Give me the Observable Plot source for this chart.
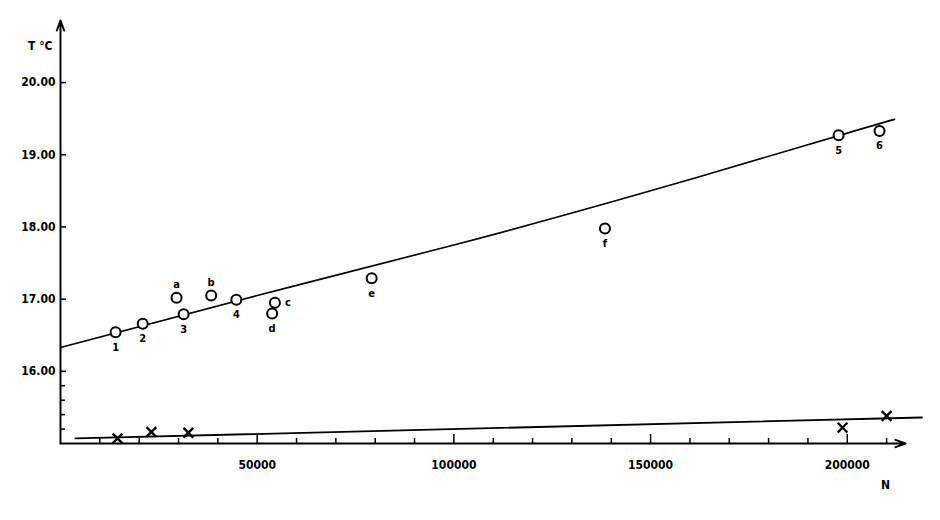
<!DOCTYPE html>
<html>
<head>
<meta charset="utf-8">
<script src="https://cdn.jsdelivr.net/npm/d3@7"></script>
<script src="https://cdn.jsdelivr.net/npm/@observablehq/plot@0.6"></script>
<style>
  html, body { margin: 0; padding: 0; background: #fff; }
  #chart svg { display: block; }
</style>
</head>
<body>
<div id="chart"></div>
<script>
// Circles: measured points
const pointLabels = ["1", "2", "3", "4", "a", "b", "c", "d", "e", "f", "5", "6"];
const pointN = [14000, 20900, 31300, 44700, 29500, 38300, 54500, 53800, 79100, 138400, 197800, 208200];
const pointT = [16.54, 16.66, 16.79, 16.99, 17.02, 17.05, 16.95, 16.80, 17.29, 17.98, 19.27, 19.33];
const labelPos = ["below", "below", "below", "below", "above", "above", "right", "below", "below", "below", "below", "below"];

// Fitted curve through circles
const fitN = [0, 50000, 100000, 150000, 200000, 212000];
const fitT = [16.33, 17.05, 17.75, 18.50, 19.30, 19.49];

// Lower series (crosses) and its line
const crossN = [14500, 23100, 32500, 198800, 210000];
const crossT = [15.07, 15.16, 15.15, 15.22, 15.38];
const lowLineN = [3800, 219000];
const lowLineT = [15.07, 15.36];

// Axes
const xDomain = [0, 214800];
const yDomain = [15, 20.86];
const yTickValues = [16, 17, 18, 19, 20];
const yMinorTicks = [15.2, 15.4, 15.6, 15.8];
const xMajorTicks = [50000, 100000, 150000, 200000];
const xMinorTicks = d3.range(10000, 211000, 10000).filter(v => v % 50000 !== 0);

const points = pointN.map((n, i) => ({n, t: pointT[i], label: pointLabels[i], pos: labelPos[i]}));
const fit = fitN.map((n, i) => ({n, t: fitT[i]}));
const crosses = crossN.map((n, i) => ({n, t: crossT[i]}));
const lowLine = lowLineN.map((n, i) => ({n, t: lowLineT[i]}));

const font = "'DejaVu Sans Condensed', 'DejaVu Sans', sans-serif";

const chart = Plot.plot({
  width: 940,
  height: 520,
  marginLeft: 60,
  marginRight: 35,
  marginTop: 20,
  marginBottom: 77,
  style: {fontFamily: font, fontWeight: "bold", fontSize: "12px", color: "#000", background: "#fff"},
  x: {domain: xDomain},
  y: {domain: yDomain},
  marks: [
    // axis lines with arrowheads
    Plot.arrow([0], {x1: xDomain[0], y1: yDomain[0], x2: xDomain[1], y2: yDomain[0], stroke: "#000", strokeWidth: 2, headLength: 8, headAngle: 40}),
    Plot.arrow([0], {x1: xDomain[0], y1: yDomain[0], x2: xDomain[0], y2: yDomain[1], stroke: "#000", strokeWidth: 2, headLength: 8, headAngle: 40}),
    // y ticks (pointing inward) and labels
    Plot.axisY({ticks: yTickValues, tickSize: -6, tickFormat: null, label: null, text: null, strokeWidth: 1.5}),
    Plot.axisY({ticks: yMinorTicks, tickSize: -5, label: null, text: null, strokeWidth: 1.5}),
    Plot.axisY({ticks: yTickValues, tickSize: 0, tickPadding: 5, tickFormat: d => d.toFixed(2), label: null}),
    // x ticks (pointing up) and labels
    Plot.axisX({ticks: xMajorTicks, tickSize: -9, label: null, text: null, strokeWidth: 1.5}),
    Plot.axisX({ticks: xMinorTicks, tickSize: -5, label: null, text: null, strokeWidth: 1.5}),
    Plot.axisX({ticks: xMajorTicks, tickSize: 0, tickPadding: 17, tickFormat: d => String(d), label: null}),
    // axis titles
    Plot.text(["T °C"], {frameAnchor: "top-left", dx: -8, dy: 21, textAnchor: "end", fontSize: 12, fontWeight: "bold"}),
    Plot.text(["N"], {frameAnchor: "bottom-right", dx: -20, dy: 45, textAnchor: "middle", fontSize: 12, fontWeight: "bold"}),
    // curves
    Plot.line(fit, {x: "n", y: "t", stroke: "#000", strokeWidth: 1.6, curve: "natural"}),
    Plot.line(lowLine, {x: "n", y: "t", stroke: "#000", strokeWidth: 1.8}),
    // crosses
    Plot.dot(crosses, {x: "n", y: "t", symbol: "times", r: 4.5, stroke: "#000", strokeWidth: 2.4}),
    // circles
    Plot.dot(points, {x: "n", y: "t", r: 5, fill: "#fff", stroke: "#000", strokeWidth: 2}),
    // point labels
    Plot.text(points.filter(d => d.pos === "below"), {x: "n", y: "t", text: "label", dy: 15, fontSize: 11, fontWeight: "bold"}),
    Plot.text(points.filter(d => d.pos === "above"), {x: "n", y: "t", text: "label", dy: -13, fontSize: 11, fontWeight: "bold"}),
    Plot.text(points.filter(d => d.pos === "right"), {x: "n", y: "t", text: "label", dx: 10, textAnchor: "start", fontSize: 11, fontWeight: "bold"})
  ]
});

document.getElementById("chart").appendChild(chart);
</script>
</body>
</html>
